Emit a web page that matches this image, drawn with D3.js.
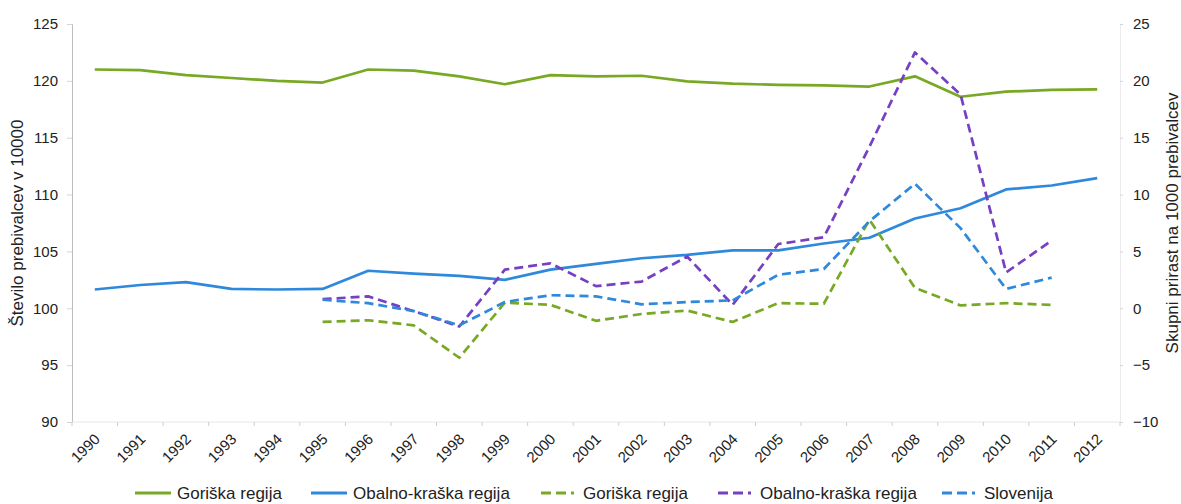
<!DOCTYPE html>
<html>
<head>
<meta charset="utf-8">
<script src="https://cdn.jsdelivr.net/npm/d3@7"></script>
<style>
  body { margin: 0; background: #fff; }
  text { font-family: "Liberation Sans", Arial, sans-serif; fill: #222; }
</style>
</head>
<body>
<div id="chart"></div>
<script>
const years = d3.range(1990, 2013).map(String);
const growthYears = d3.range(1995, 2012).map(String);

// population (left axis, in 10000)
const goriskaPop = [121.0, 120.95, 120.5, 120.25, 120.0, 119.85, 121.0, 120.9, 120.4, 119.7, 120.5, 120.4,
  120.45, 119.95, 119.75, 119.65, 119.6, 119.5, 120.4, 118.6, 119.05, 119.2, 119.25];
const obalnoPop = [101.65, 102.05, 102.3, 101.7, 101.65, 101.7, 103.3, 103.05, 102.85, 102.5, 103.4, 103.9,
  104.4, 104.7, 105.1, 105.1, 105.7, 106.2, 107.9, 108.8, 110.45, 110.8, 111.45];

// total growth per 1000 (right axis), 1995-2011
const goriskaGrowth = [-1.2, -1.05, -1.5, -4.35, 0.5, 0.3, -1.1, -0.5, -0.2, -1.2, 0.45, 0.4, 7.8, 1.8, 0.25, 0.45, 0.3];
const obalnoGrowth = [0.8, 1.05, -0.25, -1.6, 3.4, 3.95, 1.95, 2.35, 4.55, 0.3, 5.65, 6.25, 14.2, 22.5, 18.8, 3.15, 5.95];
const sloGrowth = [0.75, 0.45, -0.25, -1.5, 0.55, 1.15, 1.05, 0.35, 0.55, 0.7, 2.95, 3.45, 7.65, 10.95, 7.05, 1.7, 2.7];

const leftTicks = [90, 95, 100, 105, 110, 115, 120, 125];
const rightTicks = [-10, -5, 0, 5, 10, 15, 20, 25];

const GREEN = "#78a924", BLUE = "#2e88dc", PURPLE = "#7640c2";

const series = [
  { name: "Goriška regija", xs: years, vals: goriskaPop, axis: "L", color: GREEN, dash: null },
  { name: "Obalno-kraška regija", xs: years, vals: obalnoPop, axis: "L", color: BLUE, dash: null },
  { name: "Goriška regija", xs: growthYears, vals: goriskaGrowth, axis: "R", color: GREEN, dash: "9,5" },
  { name: "Obalno-kraška regija", xs: growthYears, vals: obalnoGrowth, axis: "R", color: PURPLE, dash: "9,5" },
  { name: "Slovenija", xs: growthYears, vals: sloGrowth, axis: "R", color: BLUE, dash: "9,5" }
];

const width = 1181, height = 504;
const plot = { left: 72, right: 1120, top: 24, bottom: 422 };

const svg = d3.select("#chart").append("svg")
  .attr("width", width).attr("height", height);

const x = d3.scaleBand().domain(years).range([plot.left, plot.right]).padding(0);
const yL = d3.scaleLinear().domain([90, 125]).range([plot.bottom, plot.top]);
const yR = d3.scaleLinear().domain([-10, 25]).range([plot.bottom, plot.top]);
const cx = (d) => x(d) + x.bandwidth() / 2;

// Left axis
const leftAxisG = svg.append("g").attr("transform", `translate(${plot.left},0)`)
  .call(d3.axisLeft(yL).tickValues(leftTicks).tickSize(5).tickPadding(9));
leftAxisG.select(".domain").attr("stroke", "#bdbdbd");
leftAxisG.selectAll(".tick line").attr("stroke", "#d4d4d4");
leftAxisG.selectAll(".tick text").style("font-size", "15px").attr("fill", "#222");

// Right axis
const rightAxisG = svg.append("g").attr("transform", `translate(${plot.right},0)`)
  .call(d3.axisRight(yR).tickValues(rightTicks).tickSize(3).tickPadding(10));
rightAxisG.select(".domain").attr("stroke", "#ececec");
rightAxisG.selectAll(".tick line").attr("stroke", "#d4d4d4");
rightAxisG.selectAll(".tick text").style("font-size", "15px").attr("fill", "#222");

// Bottom axis: boundary ticks + rotated labels
const bottomG = svg.append("g").attr("transform", `translate(0,${plot.bottom})`);
bottomG.append("line").attr("x1", plot.left).attr("x2", plot.right)
  .attr("stroke", "#e6e6e6");
bottomG.selectAll("line.bt")
  .data(years.concat(["end"]))
  .join("line").attr("class", "bt")
  .attr("x1", (d) => d === "end" ? plot.right : x(d))
  .attr("x2", (d) => d === "end" ? plot.right : x(d))
  .attr("y1", 0).attr("y2", 4)
  .attr("stroke", "#cfcfcf");
bottomG.selectAll("text")
  .data(years)
  .join("text")
  .attr("transform", (d) => `translate(${cx(d) + 6},${18}) rotate(-45)`)
  .attr("text-anchor", "end")
  .style("font-size", "15px")
  .text((d) => d);

// Axis titles
svg.append("text")
  .attr("transform", `translate(23,${(plot.top + plot.bottom) / 2}) rotate(-90)`)
  .attr("text-anchor", "middle")
  .style("font-size", "17px")
  .text("Število prebivalcev v 10000");
svg.append("text")
  .attr("transform", `translate(1178,${(plot.top + plot.bottom) / 2}) rotate(-90)`)
  .attr("text-anchor", "middle")
  .style("font-size", "17px")
  .text("Skupni prirast na 1000 prebivalcev");

// Lines
const linesG = svg.append("g");
series.forEach((s) => {
  const yScale = s.axis === "L" ? yL : yR;
  const line = d3.line()
    .x((d, i) => cx(s.xs[i]))
    .y((d) => yScale(d));
  linesG.append("path")
    .datum(s.vals)
    .attr("fill", "none")
    .attr("stroke", s.color)
    .attr("stroke-width", 2.7)
    .attr("stroke-linejoin", "round")
    .attr("stroke-dasharray", s.dash)
    .attr("d", line);
});

// Legend
const legendX = [135, 311, 541, 718, 942];
const legendG = svg.append("g").attr("transform", "translate(0,493)");
const item = legendG.selectAll("g").data(series).join("g")
  .attr("transform", (d, i) => `translate(${legendX[i]},0)`);
item.append("line")
  .attr("x1", 0).attr("x2", 36).attr("y1", 0).attr("y2", 0)
  .attr("stroke", (d) => d.color)
  .attr("stroke-width", 3)
  .attr("stroke-dasharray", (d) => d.dash ? "10,5,10,5,3" : null);
item.append("text")
  .attr("x", 42).attr("dy", "0.35em")
  .style("font-size", "17px")
  .text((d) => d.name);
</script>
</body>
</html>
